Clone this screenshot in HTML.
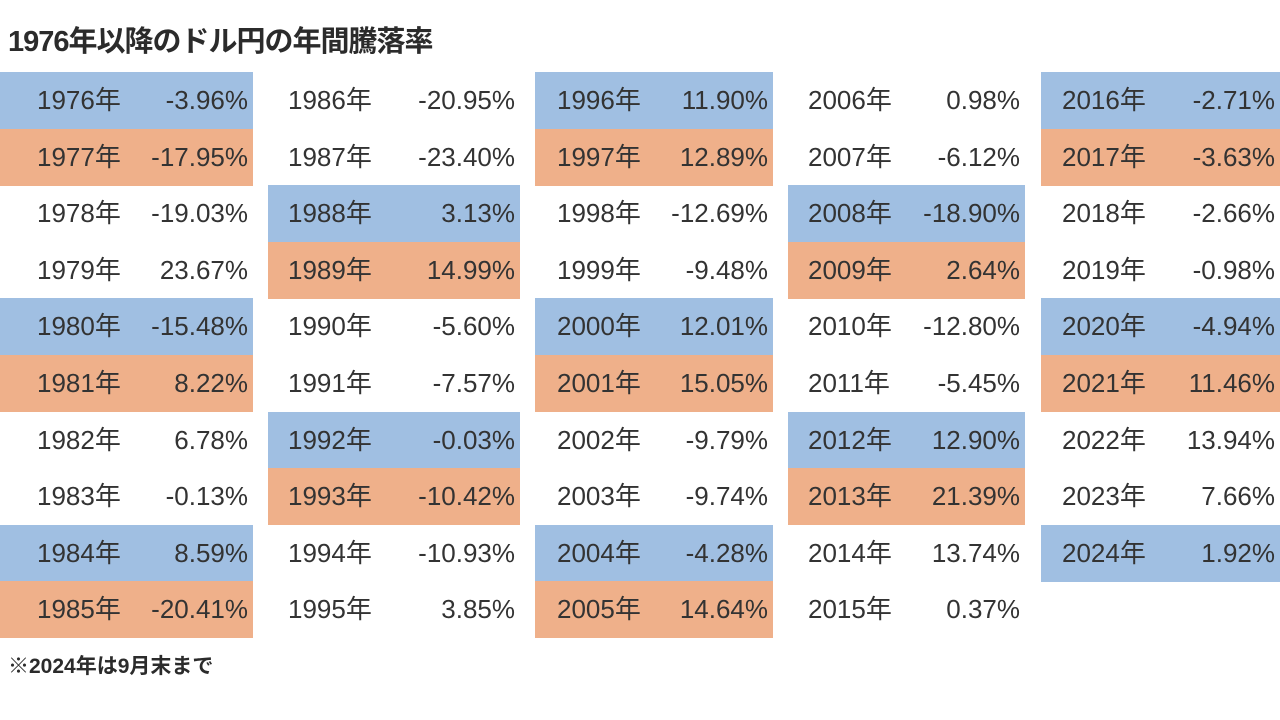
<!DOCTYPE html>
<html><head><meta charset="utf-8">
<style>
body{margin:0;width:1280px;height:720px;background:#fff;overflow:hidden;position:relative;font-family:"Liberation Sans Narrow","Liberation Sans","Noto Sans CJK JP",sans-serif;color:#333}
#title{position:absolute;left:8px;top:18px;font-family:"Liberation Sans","Noto Sans CJK JP",sans-serif;font-weight:bold;font-size:29px;color:#2b2b2b;letter-spacing:-1px}
#note{position:absolute;left:8px;top:650px;font-family:"Liberation Sans","Noto Sans CJK JP",sans-serif;font-weight:bold;font-size:21px;color:#2b2b2b}
.cell{position:absolute;height:57px;font-size:26px;line-height:57px}
.yr{position:absolute;left:0}
.val{position:absolute;right:5px}
</style></head><body>
<div id="title">1976年以降のドル円の年間騰落率</div>
<div id="table"></div>
<div id="note">※2024年は9月末まで</div>
<script>
const years=[];for(let y=1976;y<=2024;y++)years.push(y);
const rates=["-3.96%","-17.95%","-19.03%","23.67%","-15.48%","8.22%","6.78%","-0.13%","8.59%","-20.41%",
"-20.95%","-23.40%","3.13%","14.99%","-5.60%","-7.57%","-0.03%","-10.42%","-10.93%","3.85%",
"11.90%","12.89%","-12.69%","-9.48%","12.01%","15.05%","-9.79%","-9.74%","-4.28%","14.64%",
"0.98%","-6.12%","-18.90%","2.64%","-12.80%","-5.45%","12.90%","21.39%","13.74%","0.37%",
"-2.71%","-3.63%","-2.66%","-0.98%","-4.94%","11.46%","13.94%","7.66%","1.92%"];
const colX=[0,268,535,788,1041],colW=[253,252,238,237,239],yrOff=[37,20,22,20,21];
const t=document.getElementById('table');
years.forEach((y,i)=>{
 const c=Math.floor(i/10),r=i%10;
 const d=document.createElement('div');
 d.className='cell';
 
 
 d.style.left=colX[c]+'px';d.style.width=colW[c]+'px';
 d.style.top=(72+r*56.6)+'px';
 if(y%4===0)d.style.background='#a0bfe2';else if(y%4===1)d.style.background='#efb08a';
 const a=document.createElement('span');a.className='yr';a.style.left=yrOff[c]+'px';a.textContent=y+'年';
 
 
 const b=document.createElement('span');b.className='val';b.textContent=rates[i];
 
 
 d.appendChild(a);d.appendChild(b);t.appendChild(d);
});
</script>
</body></html>
